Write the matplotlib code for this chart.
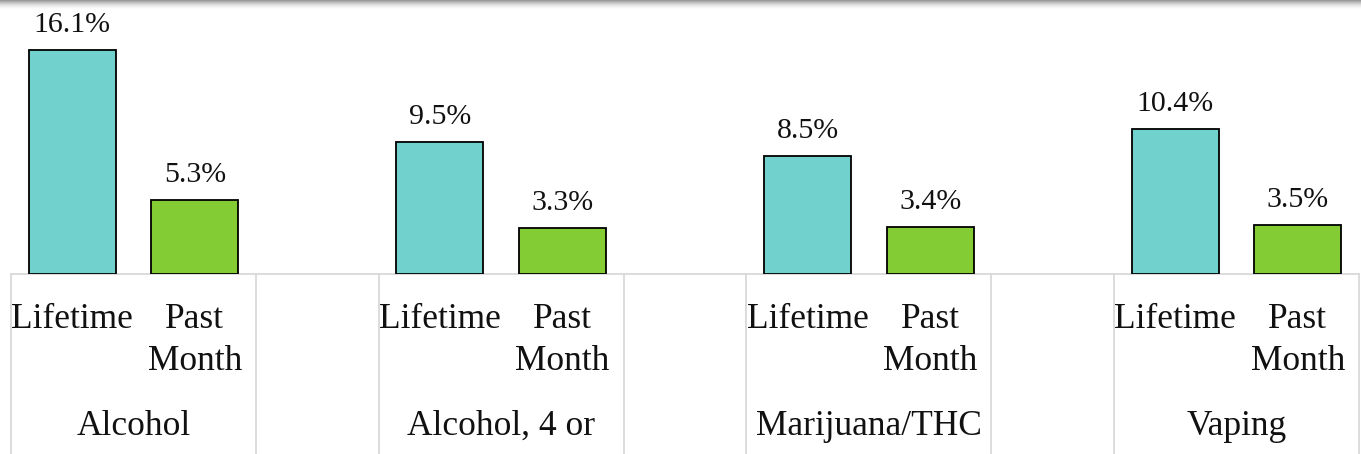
import numpy as np
import matplotlib
matplotlib.use("Agg")
from matplotlib import pyplot
from matplotlib import transforms

# Data

substances = ["Alcohol", "Alcohol, 4 or", "Marijuana/THC", "Vaping"]
periods = ["Lifetime", "Past\nMonth"]
lifetime = [16.1, 9.5, 8.5, 10.4]
pastMonth = [5.3, 3.3, 3.4, 3.5]

# Styles

lifetimeColor = "#71D2CD"
pastMonthColor = "#84CC33"
gridColor = "#D9D9D9"
textColor = "#111111"
labelSize = 25.5
valueSize = 21.5
pyplot.rcParams["font.family"] = ["Liberation Serif", "DejaVu Serif"]

W, H = 1361, 454
fig = pyplot.figure(figsize=(W / 100, H / 100), dpi=100)

# Shadow at the top (behind everything)

shadowAx = fig.add_axes([0, 1 - 11 / H, 1, 11 / H])
gradient = (1 - 0.4 * np.linspace(1, 0, 11) ** 2).reshape(-1, 1)
shadowAx.imshow(gradient, cmap="gray", vmin=0, vmax=1, aspect="auto", extent=[0, 1, 0, 1])
shadowAx.axis("off")
shadowAx.set_zorder(-1)

left, right = 11, 1359
baseline = 274
ax = fig.add_axes([left / W, (H - baseline) / H, (right - left) / W, baseline / H])
ax.set_xlim(-0.5, 10.5)
ax.set_ylim(0, baseline / 13.9)
ax.axis("off")

barWidth = 0.71
xLifetime = [3 * i for i in range(len(substances))]
xPast = [3 * i + 1 for i in range(len(substances))]

ax.bar(xLifetime, lifetime, barWidth, color=lifetimeColor, edgecolor="black", linewidth=1.3)
ax.bar(xPast, pastMonth, barWidth, color=pastMonthColor, edgecolor="black", linewidth=1.3)

for x, v in zip(xLifetime + xPast, lifetime + pastMonth):
    ax.annotate("{0:.1f}%".format(v), (x, v), xytext=(0, 13), textcoords="offset points",
                ha="center", va="baseline", fontsize=valueSize, color=textColor,
                annotation_clip=False)

# Category table below the bars

trans = transforms.blended_transform_factory(ax.transData, fig.transFigure)

def yFig(py):
    return 1 - py / H

ax.plot([-0.5, 10.5], [0, 0], color=gridColor, linewidth=1.3, clip_on=False, zorder=0)
for xs in [-0.5, 1.5, 2.5, 4.5, 5.5, 7.5, 8.5, 10.5]:
    ax.plot([xs, xs], [yFig(baseline), 0], color=gridColor, linewidth=1.3,
            transform=trans, clip_on=False)

for i, name in enumerate(substances):
    fig.text(3 * i, yFig(328), periods[0], transform=trans, ha="center", va="baseline",
             fontsize=labelSize, color=textColor)
    fig.text(3 * i + 1, yFig(328), "Past", transform=trans, ha="center", va="baseline",
             fontsize=labelSize, color=textColor)
    fig.text(3 * i + 1, yFig(370), "Month", transform=trans, ha="center", va="baseline",
             fontsize=labelSize, color=textColor)
    fig.text(3 * i + 0.5, yFig(435), name, transform=trans, ha="center", va="baseline",
             fontsize=labelSize, color=textColor)

fig.savefig("out.png", dpi=100)
pyplot.close()
